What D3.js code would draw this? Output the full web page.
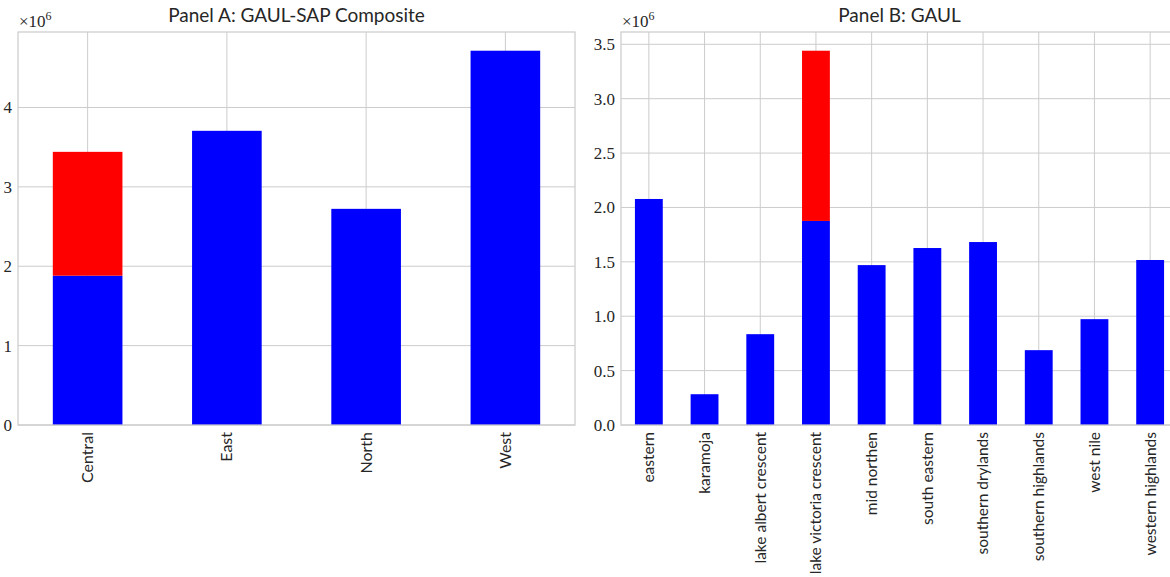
<!DOCTYPE html>
<html>
<head>
<meta charset="utf-8">
<script src="https://cdn.jsdelivr.net/npm/d3@7"></script>
<style>
  body { margin: 0; background: #fff; }
  svg { display: block; }
</style>
</head>
<body>
<svg id="chart"></svg>
<script>
// panel A: composite regions
const regionsA = ['Central', 'East', 'North', 'West'];
const baseA = [1.881e6, 3.706e6, 2.723e6, 4.715e6];
const extraA = [1.560e6, 0, 0, 0];
const ticksA = [0, 1e6, 2e6, 3e6, 4e6];

// panel B: GAUL regions
const regionsB = ['eastern', 'karamoja', 'lake albert crescent', 'lake victoria crescent',
  'mid northen', 'south eastern', 'southern drylands', 'southern highlands', 'west nile',
  'western highlands'];
const baseB = [2.078e6, 0.283e6, 0.835e6, 1.876e6, 1.470e6, 1.627e6, 1.682e6, 0.688e6, 0.973e6, 1.517e6];
const extraB = [0, 0, 0, 1.565e6, 0, 0, 0, 0, 0, 0];
const ticksB = [0, 0.5e6, 1e6, 1.5e6, 2e6, 2.5e6, 3e6, 3.5e6];

const W = 1170, H = 577;
const gridColor = '#cccccc';
const serif = '"Liberation Serif", "DejaVu Serif", serif';
const sans = 'Lato, "Open Sans", sans-serif';

const svg = d3.select('#chart').attr('width', W).attr('height', H);
svg.append('rect').attr('width', W).attr('height', H).attr('fill', '#fff');

//画一个面板：堆叠条形 + 网格
function drawPanel(opt) {
  const { left, right, top, bottom, cats, base, extra, ticks, fmt, title, xFont } = opt;
  const w = right - left, h = bottom - top;
  const totals = base.map((b, i) => b + extra[i]);

  const x = d3.scaleBand().domain(cats).range([0, w]).paddingInner(0.5).paddingOuter(0.25);
  const y = d3.scaleLinear().domain([0, d3.max(totals) * 1.05]).range([h, 0]);

  const g = svg.append('g').attr('transform', 'translate(' + left + ',' + top + ')');

  // grid
  g.append('g').selectAll('line.h').data(ticks).join('line')
    .attr('x1', 0).attr('x2', w)
    .attr('y1', d => y(d)).attr('y2', d => y(d))
    .attr('stroke', gridColor).attr('stroke-width', 1);
  g.append('g').selectAll('line.v').data(cats).join('line')
    .attr('x1', d => x(d) + x.bandwidth() / 2).attr('x2', d => x(d) + x.bandwidth() / 2)
    .attr('y1', 0).attr('y2', h)
    .attr('stroke', gridColor).attr('stroke-width', 1);

  // bars
  g.append('g').selectAll('rect').data(cats).join('rect')
    .attr('x', d => x(d)).attr('width', x.bandwidth())
    .attr('y', (d, i) => y(base[i])).attr('height', (d, i) => h - y(base[i]))
    .attr('fill', '#0000ff');
  g.append('g').selectAll('rect').data(cats).join('rect')
    .attr('x', d => x(d)).attr('width', x.bandwidth())
    .attr('y', (d, i) => y(totals[i])).attr('height', (d, i) => y(base[i]) - y(totals[i]))
    .attr('fill', '#ff0000');

  // frame
  g.append('rect').attr('width', w).attr('height', h)
    .attr('fill', 'none').attr('stroke', gridColor).attr('stroke-width', 1.25);

  // y axis
  const yAxis = d3.axisLeft(y).tickValues(ticks).tickFormat(d => fmt(d / 1e6)).tickSize(0).tickPadding(6);
  const ya = g.append('g').call(yAxis);
  ya.select('.domain').remove();
  ya.selectAll('text').attr('font-family', serif).attr('font-size', 17).attr('fill', '#262626');

  // x axis
  const xAxis = d3.axisBottom(x).tickSize(0).tickPadding(0);
  const xa = g.append('g').attr('transform', 'translate(0,' + h + ')').call(xAxis);
  xa.select('.domain').remove();
  xa.selectAll('text')
    .attr('font-family', sans).attr('font-size', xFont).attr('fill', '#262626')
    .attr('text-anchor', 'end').attr('dy', '0.35em')
    .attr('transform', 'translate(0,7) rotate(-90)')
    .attr('x', 0).attr('y', 0);

  // offset text ×10^6
  const off = g.append('text').attr('x', 1).attr('y', -5)
    .attr('font-family', serif).attr('font-size', 17).attr('fill', '#262626');
  off.append('tspan').text('\u00d710');
  off.append('tspan').attr('dy', -7).attr('font-size', 12).text('6');

  // title
  g.append('text').attr('x', w / 2).attr('y', -10)
    .attr('text-anchor', 'middle')
    .attr('font-family', sans).attr('font-size', 19).attr('fill', '#262626')
    .text(title);
}

drawPanel({
  left: 18, right: 575, top: 32, bottom: 425,
  cats: regionsA, base: baseA, extra: extraA, ticks: ticksA,
  fmt: d3.format('d'), title: 'Panel A: GAUL-SAP Composite', xFont: 16
});

drawPanel({
  left: 621, right: 1178, top: 32, bottom: 425,
  cats: regionsB, base: baseB, extra: extraB, ticks: ticksB,
  fmt: d3.format('.1f'), title: 'Panel B: GAUL', xFont: 15.5
});
</script>
</body>
</html>
